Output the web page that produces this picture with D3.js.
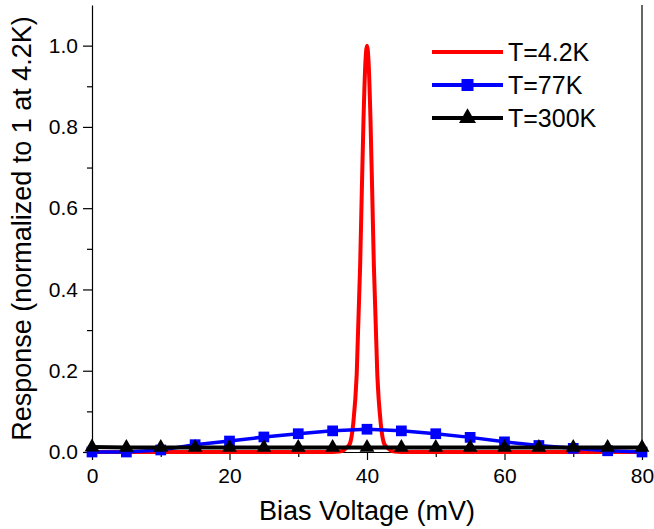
<!DOCTYPE html>
<html>
<head>
<meta charset="utf-8">
<script src="https://cdn.jsdelivr.net/npm/d3@7"></script>
<style>
  body { margin: 0; background: #fff; }
  text { font-family: "Liberation Sans", Arial, sans-serif; }
</style>
</head>
<body>
<script>
var width = 654, height = 529;

// red curve, T=4.2K (sharp peak at 40 mV)
var redX = [0, 10, 20, 30, 34, 35, 36, 36.5, 37, 37.5, 38, 38.5, 39, 39.25, 39.5, 39.75, 40,
            40.25, 40.5, 40.75, 41, 41.5, 42, 42.5, 43, 43.5, 44, 45, 46, 50, 60, 70, 80];
var redY = [0, 0, 0, 0, 0, 0, 0.001, 0.003, 0.01, 0.02, 0.07, 0.19, 0.458, 0.645, 0.823, 0.952, 1.0,
            0.952, 0.823, 0.645, 0.458, 0.19, 0.07, 0.02, 0.01, 0.003, 0.001, 0, 0, 0, 0, 0, 0];

// markers every 5 mV
var markX = [0, 5, 10, 15, 20, 25, 30, 35, 40, 45, 50, 55, 60, 65, 70, 75, 80];
var blueY = [0, 0, 0.005, 0.018, 0.027, 0.037, 0.045, 0.052, 0.056, 0.052, 0.045, 0.036, 0.025, 0.016, 0.009, 0.003, 0];
var blackY = [0.012, 0.011, 0.011, 0.011, 0.011, 0.011, 0.011, 0.011, 0.011, 0.011, 0.011, 0.011, 0.011, 0.011, 0.011, 0.011, 0.011];

var legendNames = ["T=4.2K", "T=77K", "T=300K"];
var xTicks = [0, 20, 40, 60, 80];
var xMinor = [10, 30, 50, 70];
var yTicks = [0, 0.2, 0.4, 0.6, 0.8, 1.0];
var yMinor = [0.1, 0.3, 0.5, 0.7, 0.9];

var padL = 92, padR = 642, padT = 5, padB = 452;

var svg = d3.select("body")
    .append("svg")
    .attr("width", width)
    .attr("height", height);

var xScale = d3.scaleLinear().domain([0, 80]).range([padL, padR]);
var yScale = d3.scaleLinear().domain([0, 1.1]).range([padB, padT]);

// minor ticks first, then major with labels
svg.append("g")
    .attr("transform", "translate(0," + padB + ")")
    .call(d3.axisBottom(xScale).tickValues(xMinor).tickSize(5).tickFormat(""))
    .call(function(g) { g.select(".domain").remove(); });

svg.append("g")
    .attr("transform", "translate(" + padL + ",0)")
    .call(d3.axisLeft(yScale).tickValues(yMinor).tickSize(5).tickFormat(""))
    .call(function(g) { g.select(".domain").remove(); });

svg.append("g")
    .attr("transform", "translate(0," + padB + ")")
    .call(d3.axisBottom(xScale).tickValues(xTicks).tickSize(8).tickSizeOuter(0).tickPadding(8));

svg.append("g")
    .attr("transform", "translate(" + padL + ",0)")
    .call(d3.axisLeft(yScale).tickValues(yTicks).tickSize(9).tickSizeOuter(0).tickPadding(5)
        .tickFormat(d3.format(".1f")));

svg.selectAll(".tick text")
    .attr("font-family", "Liberation Sans, Arial, sans-serif")
    .attr("font-size", 21)
    .attr("fill", "#000");
svg.selectAll(".tick line, .domain").attr("stroke", "#000").attr("stroke-width", 1.2);

// right frame line
svg.append("line")
    .attr("x1", padR).attr("x2", padR)
    .attr("y1", padT).attr("y2", padB)
    .attr("stroke", "#000").attr("stroke-width", 1.2);

// curves
var redLine = d3.line()
    .x(function(d, i) { return xScale(redX[i]); })
    .y(function(d) { return yScale(d); })
    .curve(d3.curveMonotoneX);

var markLine = d3.line()
    .x(function(d, i) { return xScale(markX[i]); })
    .y(function(d) { return yScale(d); });

svg.append("path")
    .attr("d", redLine(redY))
    .attr("fill", "none")
    .attr("stroke", "#ff0000")
    .attr("stroke-width", 4);

svg.append("path")
    .attr("d", markLine(blueY))
    .attr("fill", "none")
    .attr("stroke", "#0000ff")
    .attr("stroke-width", 3.5);

svg.selectAll(".sq")
    .data(blueY)
    .enter()
    .append("path")
    .attr("class", "sq")
    .attr("d", d3.symbol().type(d3.symbolSquare).size(115))
    .attr("transform", function(d, i) { return "translate(" + xScale(markX[i]) + "," + yScale(d) + ")"; })
    .attr("fill", "#0000ff");

svg.append("path")
    .attr("d", markLine(blackY))
    .attr("fill", "none")
    .attr("stroke", "#000")
    .attr("stroke-width", 4);

svg.selectAll(".tri")
    .data(blackY)
    .enter()
    .append("path")
    .attr("class", "tri")
    .attr("d", d3.symbol().type(d3.symbolTriangle).size(95))
    .attr("transform", function(d, i) { return "translate(" + xScale(markX[i]) + "," + yScale(d) + ")"; })
    .attr("fill", "#000");

// legend
var legColors = ["#ff0000", "#0000ff", "#000"];
var legSymbols = [null, d3.symbolSquare, d3.symbolTriangle];
var legSizes = [0, 144, 125];
var leg = svg.selectAll(".leg")
    .data(legendNames)
    .enter()
    .append("g")
    .attr("class", "leg")
    .attr("transform", function(d, i) { return "translate(432," + (52 + i * 33) + ")"; });

leg.append("line")
    .attr("x1", 0).attr("x2", 71)
    .attr("stroke", function(d, i) { return legColors[i]; })
    .attr("stroke-width", 4);

leg.filter(function(d, i) { return i > 0; })
    .append("path")
    .attr("d", function(d, i) { return d3.symbol().type(legSymbols[i + 1]).size(legSizes[i + 1])(); })
    .attr("transform", "translate(35.5,0)")
    .attr("fill", function(d, i) { return legColors[i + 1]; });

leg.append("text")
    .attr("x", 76)
    .attr("dy", "0.36em")
    .attr("font-size", 25)
    .text(function(d) { return d; });

// axis titles
svg.append("text")
    .attr("x", (padL + padR) / 2)
    .attr("y", 520)
    .attr("text-anchor", "middle")
    .attr("font-size", 27)
    .text("Bias Voltage (mV)");

svg.append("text")
    .attr("transform", "translate(31," + ((padT + padB) / 2) + ") rotate(-90)")
    .attr("text-anchor", "middle")
    .attr("font-size", 27)
    .text("Response (normalized to 1 at 4.2K)");
</script>
</body>
</html>
